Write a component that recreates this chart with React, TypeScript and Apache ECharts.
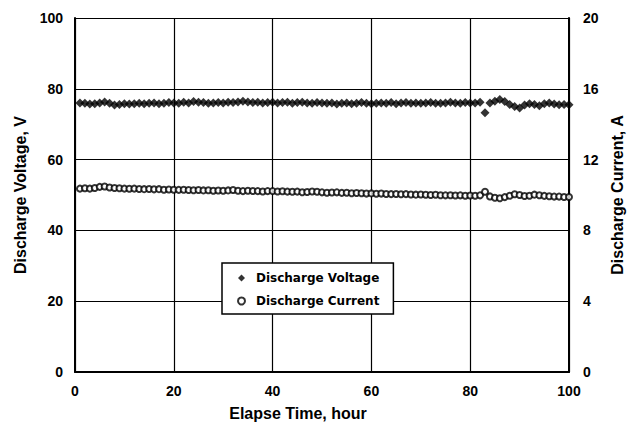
import React, { useEffect, useRef } from "react";
import * as echarts from "echarts";

const hours = [
  1, 2, 3, 4, 5, 6, 7, 8, 9, 10, 11, 12, 13, 14, 15, 16, 17, 18, 19, 20,
  21, 22, 23, 24, 25, 26, 27, 28, 29, 30, 31, 32, 33, 34, 35, 36, 37, 38, 39, 40,
  41, 42, 43, 44, 45, 46, 47, 48, 49, 50, 51, 52, 53, 54, 55, 56, 57, 58, 59, 60,
  61, 62, 63, 64, 65, 66, 67, 68, 69, 70, 71, 72, 73, 74, 75, 76, 77, 78, 79, 80,
  81, 82, 83, 84, 85, 86, 87, 88, 89, 90, 91, 92, 93, 94, 95, 96, 97, 98, 99, 100,
];

const voltage = [
  76.0, 75.9, 75.7, 75.8, 76.0, 76.3, 75.9, 75.4, 75.6, 75.8, 75.7, 75.8, 75.9, 75.8, 75.9, 76.0, 75.8, 75.9, 76.1, 76.0,
  75.9, 76.2, 76.0, 76.4, 76.2, 76.1, 75.9, 76.0, 76.1, 76.0, 76.2, 76.1, 76.3, 76.5, 76.3, 76.1, 76.2, 76.0, 76.1, 76.2,
  76.0, 76.1, 76.2, 75.9, 76.1, 76.2, 76.0, 75.9, 76.1, 76.0, 75.9, 76.0, 75.7, 75.9, 76.0, 75.8, 75.9, 76.1, 75.9, 75.8,
  75.9, 76.0, 75.9, 76.1, 75.8, 76.0, 76.1, 75.9, 76.0, 75.9, 76.0, 76.1, 75.9, 75.9, 76.0, 76.2, 76.0, 75.9, 76.1, 76.0,
  76.0, 76.2, 73.2, 76.0, 76.5, 77.0, 76.4, 75.6, 75.0, 74.6, 75.4, 75.8, 75.6, 75.2, 75.8, 76.0, 75.7, 75.5, 75.6, 75.5,
];

const current = [
  10.36, 10.38, 10.36, 10.4, 10.46, 10.48, 10.42, 10.4, 10.38, 10.36, 10.35, 10.36, 10.34, 10.33, 10.34, 10.32, 10.33, 10.3, 10.31, 10.3,
  10.29, 10.3, 10.28, 10.27, 10.28, 10.26, 10.27, 10.24, 10.25, 10.24, 10.26, 10.28, 10.24, 10.22, 10.24, 10.23, 10.22, 10.2, 10.22, 10.22,
  10.2, 10.21, 10.19, 10.18, 10.19, 10.16, 10.17, 10.2, 10.18, 10.15, 10.13, 10.14, 10.15, 10.12, 10.13, 10.1, 10.11, 10.1, 10.08, 10.09,
  10.07, 10.08, 10.06, 10.05, 10.06, 10.04, 10.05, 10.03, 10.02, 10.03, 10.01, 10.0, 10.01, 9.99, 9.98, 9.99, 9.97, 9.98, 9.96, 9.97,
  9.96, 9.98, 10.18, 9.92, 9.84, 9.82, 9.88, 9.96, 10.04, 10.0, 9.94, 9.96, 10.02, 9.99, 9.95, 9.93, 9.91, 9.91, 9.89, 9.89,
];

const leftTicks = [0, 20, 40, 60, 80, 100];
const rightTicks = [0, 4, 8, 12, 16, 20];
const xTicks = [0, 20, 40, 60, 80, 100];

const FONT = "'Liberation Sans', Arial, sans-serif";
const WIDE = "'DejaVu Sans', sans-serif";

export default function App() {
  const ref = useRef<HTMLDivElement>(null);
  useEffect(() => {
    if (!ref.current) return;
    const chart = echarts.init(ref.current, undefined, { renderer: "svg" });
    const labelStyle = { color: "#000", fontFamily: FONT, fontWeight: "bold", fontSize: 14 };
    chart.setOption({
      animation: false,
      backgroundColor: "#fff",
      textStyle: { fontFamily: FONT },
      grid: { left: 75, right: 70, top: 18, bottom: 60 },
      graphic: [
        {
          type: "text",
          x: 298,
          y: 413,
          style: {
            text: "Elapse Time, hour",
            fill: "#000",
            font: `bold 16px ${FONT}`,
            align: "center",
            verticalAlign: "middle",
          },
        },
      ],
      legend: {
        orient: "vertical",
        left: 222,
        top: 263,
        padding: [9, 14, 7, 15],
        itemGap: 11,
        itemWidth: 7,
        itemHeight: 7,
        borderColor: "#000",
        borderWidth: 1.5,
        backgroundColor: "#fff",
        textStyle: { color: "#000", fontFamily: WIDE, fontWeight: "bold", fontSize: 12, padding: [0, 0, 0, 6] },
        data: [
          { name: "Discharge Voltage", icon: "diamond" },
          { name: "Discharge Current", icon: "emptyCircle" },
        ],
      },
      xAxis: {
        type: "value",
        min: xTicks[0],
        max: xTicks[xTicks.length - 1],
        interval: 20,
        axisLine: { lineStyle: { color: "#000", width: 2 } },
        axisTick: { show: false },
        axisLabel: { ...labelStyle, margin: 12 },
        splitLine: { show: true, lineStyle: { color: "#000", width: 1.2 } },
      },
      yAxis: [
        {
          type: "value",
          min: leftTicks[0],
          max: leftTicks[leftTicks.length - 1],
          interval: 20,
          name: "Discharge Voltage, V",
          nameLocation: "middle",
          nameGap: 46,
          nameTextStyle: { ...labelStyle, fontSize: 16 },
          axisLine: { show: true, lineStyle: { color: "#000", width: 2 } },
          axisTick: { show: false },
          axisLabel: { ...labelStyle, margin: 12 },
          splitLine: { show: true, lineStyle: { color: "#000", width: 1.2 } },
        },
        {
          type: "value",
          min: rightTicks[0],
          max: rightTicks[rightTicks.length - 1],
          interval: 4,
          name: "Discharge Current, A",
          nameLocation: "middle",
          nameGap: 40,
          nameRotate: 90,
          nameTextStyle: { ...labelStyle, fontSize: 16 },
          axisLine: { show: true, lineStyle: { color: "#000", width: 2 } },
          axisTick: { show: false },
          axisLabel: { ...labelStyle, margin: 14 },
          splitLine: { show: false },
        },
      ],
      series: [
        {
          name: "Discharge Voltage",
          type: "scatter",
          yAxisIndex: 0,
          symbol: "diamond",
          symbolSize: 9,
          itemStyle: { color: "#000" },
          data: hours.map((h, i) => [h, voltage[i]]),
        },
        {
          name: "Discharge Current",
          type: "scatter",
          yAxisIndex: 1,
          symbol: "emptyCircle",
          symbolSize: 6,
          itemStyle: { color: "#000", borderColor: "#000", borderWidth: 1.6 },
          data: hours.map((h, i) => [h, current[i]]),
        },
      ],
    });
    return () => chart.dispose();
  }, []);
  return <div ref={ref} style={{ width: 639, height: 432, margin: -8 }} />;
}
